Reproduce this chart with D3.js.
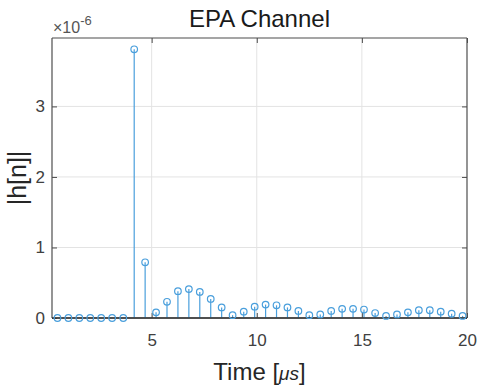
<!DOCTYPE html>
<html>
<head>
<meta charset="utf-8">
<script src="https://cdn.jsdelivr.net/npm/d3@7"></script>
<style>
  body { margin: 0; background: #fff; }
  text { font-family: "Liberation Sans", Arial, Helvetica, sans-serif; }
</style>
</head>
<body>
<div id="chart"></div>
<script>
// sample times in microseconds (Ts ~ 0.52 us)
let timeUs = [0.52, 1.04, 1.56, 2.08, 2.60, 3.12, 3.65, 4.17, 4.69, 5.21,
              5.73, 6.25, 6.77, 7.29, 7.81, 8.33, 8.85, 9.38, 9.90, 10.42,
              10.94, 11.46, 11.98, 12.50, 13.02, 13.54, 14.06, 14.58, 15.10, 15.63,
              16.15, 16.67, 17.19, 17.71, 18.23, 18.75, 19.27, 19.79];
// |h[n]| in units of 1e-6
let hMag = [0, 0, 0, 0, 0, 0, 0, 3.81, 0.79, 0.08,
            0.23, 0.38, 0.41, 0.37, 0.27, 0.15, 0.04, 0.09, 0.16, 0.19,
            0.18, 0.15, 0.10, 0.04, 0.05, 0.10, 0.13, 0.13, 0.12, 0.07,
            0.03, 0.05, 0.08, 0.11, 0.11, 0.09, 0.06, 0.03];
let xTicks = [5, 10, 15, 20];
let yTicks = [0, 1, 2, 3];

let width = 478, height = 386;
let mLeft = 52, mRight = 467, mTop = 38, mBottom = 318;
let stemColor = "#4a9fdc";
let axisColor = "#4d4d4d";

let svg = d3.select("#chart").append("svg")
    .attr("width", width)
    .attr("height", height);

let x = d3.scaleLinear().domain([0.26, 20]).range([mLeft, mRight]);
let y = d3.scaleLinear().domain([0, 3.97]).range([mBottom, mTop]);

// grid
svg.append("g").selectAll("line")
    .data(xTicks.filter(d => d < 20))
    .enter().append("line")
    .attr("x1", d => x(d)).attr("x2", d => x(d))
    .attr("y1", mTop).attr("y2", mBottom)
    .attr("stroke", "#e3e3e3").attr("stroke-width", 1);
svg.append("g").selectAll("line")
    .data(yTicks.filter(d => d > 0))
    .enter().append("line")
    .attr("x1", mLeft).attr("x2", mRight)
    .attr("y1", d => y(d)).attr("y2", d => y(d))
    .attr("stroke", "#e3e3e3").attr("stroke-width", 1);

// axes (ticks pointing inward)
let xAxis = svg.append("g")
    .attr("transform", "translate(0," + mBottom + ")")
    .call(d3.axisBottom(x).tickValues(xTicks).tickSize(-5).tickPadding(16).tickFormat(d3.format("d")));
let xAxisTop = svg.append("g")
    .attr("transform", "translate(0," + mTop + ")")
    .call(d3.axisTop(x).tickValues(xTicks).tickSize(-5).tickFormat(""));
let yAxis = svg.append("g")
    .attr("transform", "translate(" + mLeft + ",0)")
    .call(d3.axisLeft(y).tickValues(yTicks).tickSize(-5).tickPadding(7).tickFormat(d3.format("d")));
let yAxisRight = svg.append("g")
    .attr("transform", "translate(" + mRight + ",0)")
    .call(d3.axisRight(y).tickValues(yTicks).tickSize(-5).tickFormat(""));

[xAxis, xAxisTop, yAxis, yAxisRight].forEach(function(g) {
    g.select(".domain").attr("stroke", axisColor).attr("stroke-width", 1.2);
    g.selectAll(".tick line").attr("stroke", axisColor);
    g.selectAll(".tick text")
        .attr("fill", "#404040")
        .style("font-size", "17px");
});
// domain paths draw the outer ticks too, redraw as box edges only
[xAxis, xAxisTop].forEach(g => g.select(".domain").attr("d", "M" + mLeft + ",0H" + mRight));
[yAxis, yAxisRight].forEach(g => g.select(".domain").attr("d", "M0," + mTop + "V" + mBottom));

// stems
let pts = timeUs.map((t, i) => ({ t: t, v: hMag[i] }));
svg.append("g").selectAll("line")
    .data(pts)
    .enter().append("line")
    .attr("x1", d => x(d.t)).attr("x2", d => x(d.t))
    .attr("y1", y(0)).attr("y2", d => y(d.v))
    .attr("stroke", stemColor).attr("stroke-width", 1.2);

// stem baseline
svg.append("line")
    .attr("x1", mLeft).attr("x2", mRight)
    .attr("y1", y(0)).attr("y2", y(0))
    .attr("stroke", "#333").attr("stroke-width", 1.6);

svg.append("g").selectAll("circle")
    .data(pts)
    .enter().append("circle")
    .attr("cx", d => x(d.t)).attr("cy", d => y(d.v))
    .attr("r", 3.3)
    .attr("fill", "none")
    .attr("stroke", stemColor).attr("stroke-width", 1.2);

// exponent label
let expo = svg.append("text")
    .attr("x", mLeft + 1).attr("y", 33)
    .attr("fill", "#555")
    .style("font-size", "16px");
expo.append("tspan").text("\u00d710");
expo.append("tspan").attr("dy", -8).style("font-size", "13px").text("-6");

// title
svg.append("text")
    .attr("x", (mLeft + mRight) / 2).attr("y", 27)
    .attr("text-anchor", "middle")
    .attr("fill", "#1a1a1a")
    .style("font-size", "24px")
    .text("EPA Channel");

// x label
let xl = svg.append("text")
    .attr("x", (mLeft + mRight) / 2).attr("y", 380)
    .attr("text-anchor", "middle")
    .attr("fill", "#262626")
    .style("font-size", "24px");
xl.append("tspan").text("Time [");
xl.append("tspan").style("font-style", "italic").style("font-size", "19px").text("\u03bcs");
xl.append("tspan").text("]");

// y label
svg.append("text")
    .attr("transform", "translate(26," + ((mTop + mBottom) / 2) + ") rotate(-90)")
    .attr("text-anchor", "middle")
    .attr("fill", "#262626")
    .style("font-size", "25px")
    .text("|h[n]|");
</script>
</body>
</html>
